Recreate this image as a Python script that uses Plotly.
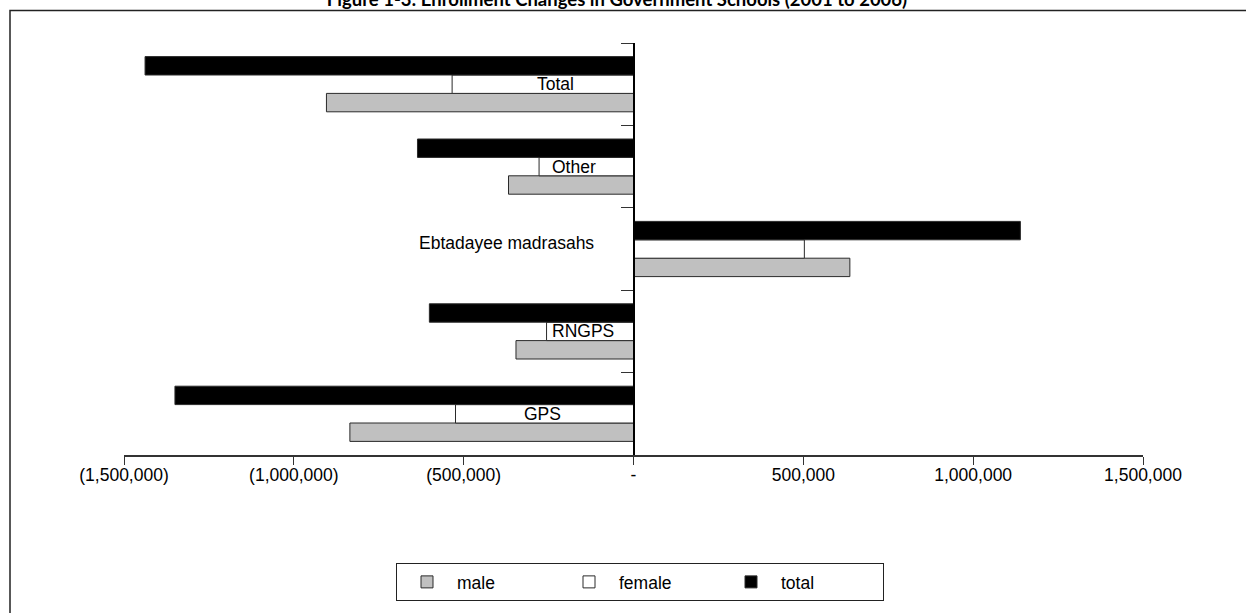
import plotly.graph_objects as go

# ---- data ----
categories = ["GPS", "RNGPS", "Ebtadayee madrasahs", "Other", "Total"]
male = [-835000, -346000, 637000, -368000, -904000]
female = [-524000, -256000, 503000, -278000, -534000]
total = [-1350000, -601000, 1139000, -636000, -1438000]

x_tickvals = [-1500000, -1000000, -500000, 0, 500000, 1000000, 1500000]
x_ticktext = ["(1,500,000)", "(1,000,000)", "(500,000)", "-", "500,000", "1,000,000", "1,500,000"]

series_names = ["male", "female", "total"]
title_text = "Figure 1-3: Enrollment Changes in Government Schools (2001 to 2006)"

# ---- style ----
FONT = "Liberation Sans Narrow, Arial Narrow, Liberation Sans, Arial, sans-serif"
FS = 17.5
fills = {"male": "#C0C0C0", "female": "#FFFFFF", "total": "#000000"}
edge = "#2a2a2a"
# label pixel offsets relative to the category centre on the zero axis
label_xshift = {"GPS": -91, "RNGPS": -51, "Ebtadayee madrasahs": -127, "Other": -60, "Total": -78}
label_yshift = {"GPS": 0, "RNGPS": 0, "Ebtadayee madrasahs": 6, "Other": 0, "Total": 0}

W, H = 1246, 613
L, R, T, B = 124, 103, 43, 158
pw = W - L - R
ph = H - T - B

fig = go.Figure()
for name, vals in zip(series_names, [male, female, total]):
    fig.add_trace(go.Bar(
        y=categories, x=vals, name=name, orientation="h",
        marker=dict(color=fills[name], line=dict(color=edge, width=1)),
    ))

for cat in categories:
    fig.add_annotation(
        x=0, y=cat, xref="x", yref="y", text=cat, showarrow=False,
        xanchor="center", yanchor="middle",
        xshift=label_xshift[cat], yshift=label_yshift[cat],
        font=dict(family=FONT, size=FS, color="#000000"),
    )

# chart-area border (top and left visible, right/bottom beyond the window)
fig.add_shape(
    type="rect", xref="paper", yref="paper",
    x0=(10 - L) / pw, x1=(W + 6 - L) / pw,
    y0=-(H + 6 - T - ph) / ph, y1=(H - B - 10.5) / ph,
    line=dict(color="#222222", width=1.5), layer="below",
)

fig.update_layout(
    width=W, height=H,
    margin=dict(l=L, r=R, t=T, b=B, pad=0),
    paper_bgcolor="white", plot_bgcolor="white",
    barmode="group", bargap=0.33, bargroupgap=0,
    font=dict(family=FONT, size=FS, color="#000000"),
    title=dict(
        text="<b>" + title_text + "</b>",
        x=(617 - L) / pw, xanchor="center", xref="paper",
        y=1.0, yanchor="middle", yref="container",
        font=dict(family="Lato, Open Sans, sans-serif", size=18.5, color="#000000"),
    ),
    showlegend=True,
    legend=dict(
        orientation="h", x=(396 - L) / pw, xanchor="left",
        y=-(563 - (H - B)) / ph, yanchor="top",
        bordercolor="#222222", borderwidth=1, bgcolor="white",
        font=dict(family=FONT, size=FS),
        itemwidth=50,
        entrywidth=97, entrywidthmode="pixels",
        traceorder="normal",
    ),
    xaxis=dict(
        range=[-1500000, 1500000], tickvals=x_tickvals, ticktext=x_ticktext,
        showgrid=False, zeroline=False, showline=True, linecolor="#333333", linewidth=1.5,
        ticks="outside", ticklen=8, tickcolor="#333333", tickwidth=1,
        ticklabelstandoff=-5,
        tickfont=dict(family=FONT, size=FS), fixedrange=True,
    ),
    yaxis=dict(
        categoryorder="array", categoryarray=categories,
        anchor="free", position=0.5,
        showgrid=False, zeroline=False, showline=True, linecolor="#000000", linewidth=1.5,
        ticks="outside", tickson="boundaries", ticklen=12, tickcolor="#333333", tickwidth=1,
        showticklabels=False, fixedrange=True,
    ),
)

fig.write_html(
    "out.html",
    config={"displayModeBar": False},
    post_script="document.body.style.margin='0px';document.body.style.overflow='hidden';",
)
